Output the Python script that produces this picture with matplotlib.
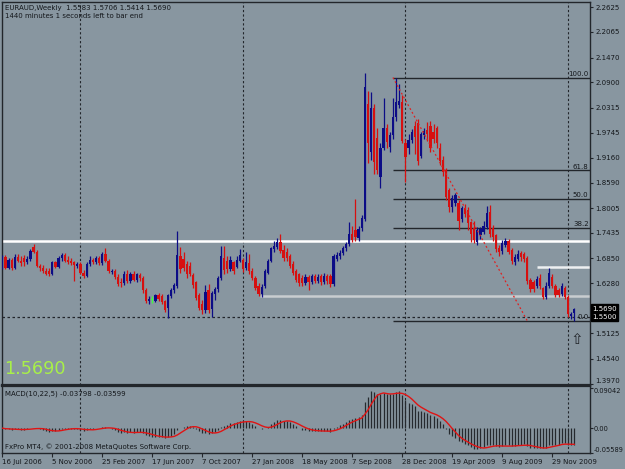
import numpy as np
import pandas as pd
import matplotlib
matplotlib.use('Agg')
import matplotlib.pyplot as plt
from matplotlib.transforms import blended_transform_factory

# EURAUD weekly candles, 16 Jul 2006 .. 17 Jan 2010
opens = [
    1.665, 1.688, 1.664, 1.682, 1.663, 1.689, 1.680, 1.685, 1.676, 1.684,
    1.712, 1.700, 1.668, 1.664, 1.657, 1.656, 1.648, 1.676, 1.666, 1.686,
    1.692, 1.682, 1.680, 1.676, 1.668, 1.672, 1.652, 1.644, 1.672, 1.682,
    1.676, 1.686, 1.674, 1.696, 1.680, 1.654, 1.656, 1.642, 1.630, 1.628,
    1.650, 1.632, 1.650, 1.636, 1.646, 1.640, 1.612, 1.588, 1.590, 1.588,
    1.600, 1.598, 1.586, 1.570, 1.598, 1.612, 1.622, 1.690, 1.684, 1.672,
    1.668, 1.646, 1.630, 1.600, 1.580, 1.566, 1.612, 1.568, 1.604, 1.614,
    1.640, 1.686, 1.680, 1.660, 1.676, 1.666, 1.680, 1.682, 1.662, 1.674,
    1.656, 1.640, 1.622, 1.604, 1.622, 1.652, 1.680, 1.706, 1.712, 1.722,
    1.704, 1.700, 1.690, 1.672, 1.656, 1.648, 1.640, 1.628, 1.642, 1.630,
    1.644, 1.634, 1.644, 1.630, 1.644, 1.644, 1.626, 1.684, 1.690, 1.698,
    1.708, 1.718, 1.742, 1.750, 1.732, 1.754, 1.776, 2.040, 1.930, 2.030,
    1.962, 1.872, 1.940, 1.984, 1.942, 1.968, 2.010, 2.038, 2.044, 1.950,
    1.938, 1.958, 1.990, 1.996, 1.920, 1.968, 1.980, 1.990, 1.975, 1.985,
    1.940, 1.912, 1.888, 1.842, 1.803, 1.812, 1.812, 1.775, 1.800, 1.796,
    1.768, 1.756, 1.722, 1.738, 1.746, 1.758, 1.792, 1.756, 1.738, 1.708,
    1.702, 1.716, 1.724, 1.704, 1.676, 1.684, 1.698, 1.694, 1.686, 1.636,
    1.630, 1.622, 1.640, 1.616, 1.596, 1.622, 1.642, 1.622, 1.612, 1.604,
    1.618, 1.596, 1.553, 1.5583]
highs = [
    1.692, 1.692, 1.686, 1.686, 1.694, 1.695, 1.690, 1.692, 1.690, 1.706,
    1.717, 1.705, 1.672, 1.670, 1.664, 1.662, 1.680, 1.680, 1.690, 1.698,
    1.697, 1.690, 1.686, 1.680, 1.676, 1.676, 1.658, 1.676, 1.690, 1.686,
    1.690, 1.690, 1.700, 1.708, 1.684, 1.660, 1.660, 1.648, 1.640, 1.656,
    1.658, 1.654, 1.656, 1.652, 1.652, 1.644, 1.616, 1.598, 1.598, 1.604,
    1.606, 1.604, 1.590, 1.604, 1.616, 1.628, 1.747, 1.712, 1.700, 1.680,
    1.676, 1.652, 1.634, 1.606, 1.590, 1.624, 1.626, 1.610, 1.620, 1.644,
    1.714, 1.714, 1.690, 1.690, 1.680, 1.690, 1.706, 1.686, 1.700, 1.696,
    1.662, 1.644, 1.628, 1.626, 1.660, 1.684, 1.712, 1.724, 1.732, 1.742,
    1.716, 1.710, 1.696, 1.678, 1.660, 1.652, 1.646, 1.648, 1.646, 1.650,
    1.648, 1.650, 1.650, 1.652, 1.650, 1.648, 1.694, 1.700, 1.704, 1.714,
    1.722, 1.768, 1.760, 1.822, 1.760, 1.784, 2.111, 2.070, 2.068, 2.040,
    1.985, 1.950, 2.054, 1.995, 1.975, 2.054, 2.101, 2.085, 2.060, 1.960,
    1.970, 1.982, 2.000, 2.005, 1.975, 1.985, 1.998, 2.000, 1.995, 1.990,
    1.950, 1.920, 1.892, 1.848, 1.830, 1.836, 1.820, 1.806, 1.810, 1.804,
    1.772, 1.770, 1.758, 1.758, 1.770, 1.806, 1.808, 1.762, 1.742, 1.716,
    1.728, 1.732, 1.730, 1.708, 1.694, 1.704, 1.702, 1.700, 1.690, 1.640,
    1.636, 1.644, 1.650, 1.620, 1.630, 1.662, 1.648, 1.626, 1.618, 1.628,
    1.622, 1.600, 1.562, 1.5706]
lows = [
    1.660, 1.660, 1.660, 1.658, 1.660, 1.676, 1.668, 1.668, 1.672, 1.680,
    1.698, 1.666, 1.656, 1.652, 1.646, 1.644, 1.646, 1.662, 1.662, 1.680,
    1.676, 1.672, 1.670, 1.632, 1.664, 1.648, 1.640, 1.642, 1.668, 1.672,
    1.672, 1.670, 1.670, 1.676, 1.652, 1.648, 1.638, 1.622, 1.620, 1.624,
    1.628, 1.628, 1.632, 1.630, 1.632, 1.606, 1.582, 1.580, 1.582, 1.584,
    1.588, 1.580, 1.562, 1.548, 1.594, 1.606, 1.618, 1.652, 1.656, 1.640,
    1.644, 1.618, 1.590, 1.566, 1.558, 1.560, 1.560, 1.550, 1.590, 1.608,
    1.636, 1.650, 1.652, 1.656, 1.650, 1.662, 1.676, 1.654, 1.658, 1.650,
    1.636, 1.612, 1.598, 1.596, 1.618, 1.648, 1.676, 1.700, 1.706, 1.698,
    1.680, 1.680, 1.662, 1.646, 1.630, 1.622, 1.622, 1.624, 1.612, 1.626,
    1.628, 1.628, 1.624, 1.626, 1.626, 1.620, 1.622, 1.678, 1.684, 1.692,
    1.702, 1.714, 1.722, 1.726, 1.726, 1.748, 1.770, 1.905, 1.912, 1.880,
    1.880, 1.848, 1.935, 1.940, 1.930, 1.960, 2.000, 2.030, 1.950, 1.860,
    1.926, 1.950, 1.925, 1.900, 1.915, 1.960, 1.955, 1.930, 1.950, 1.940,
    1.900, 1.875, 1.820, 1.792, 1.792, 1.806, 1.750, 1.768, 1.780, 1.750,
    1.722, 1.720, 1.716, 1.730, 1.740, 1.752, 1.734, 1.726, 1.700, 1.690,
    1.696, 1.712, 1.694, 1.672, 1.670, 1.680, 1.680, 1.676, 1.626, 1.608,
    1.608, 1.616, 1.614, 1.592, 1.592, 1.618, 1.616, 1.596, 1.596, 1.598,
    1.592, 1.550, 1.545, 1.5414]
closes = [
    1.688, 1.664, 1.682, 1.663, 1.689, 1.680, 1.674, 1.676, 1.684, 1.702,
    1.700, 1.668, 1.662, 1.657, 1.650, 1.648, 1.676, 1.666, 1.686, 1.692,
    1.680, 1.677, 1.674, 1.670, 1.671, 1.652, 1.644, 1.672, 1.682, 1.676,
    1.686, 1.674, 1.694, 1.680, 1.656, 1.656, 1.642, 1.626, 1.628, 1.650,
    1.632, 1.650, 1.636, 1.648, 1.640, 1.612, 1.588, 1.592, 1.590, 1.600,
    1.592, 1.584, 1.566, 1.600, 1.612, 1.624, 1.692, 1.660, 1.664, 1.648,
    1.650, 1.624, 1.594, 1.570, 1.566, 1.608, 1.566, 1.606, 1.614, 1.640,
    1.690, 1.658, 1.660, 1.682, 1.656, 1.682, 1.692, 1.660, 1.676, 1.656,
    1.640, 1.618, 1.602, 1.620, 1.656, 1.678, 1.708, 1.714, 1.722, 1.702,
    1.686, 1.686, 1.668, 1.652, 1.636, 1.628, 1.628, 1.642, 1.630, 1.644,
    1.634, 1.642, 1.630, 1.644, 1.632, 1.626, 1.690, 1.692, 1.698, 1.710,
    1.718, 1.742, 1.728, 1.734, 1.752, 1.778, 2.079, 1.950, 2.030, 1.906,
    1.888, 1.940, 1.985, 1.952, 1.968, 2.010, 2.044, 2.046, 1.956, 1.918,
    1.958, 1.975, 1.964, 1.910, 1.970, 1.978, 1.970, 1.940, 1.960, 1.950,
    1.910, 1.884, 1.826, 1.804, 1.824, 1.830, 1.772, 1.800, 1.786, 1.766,
    1.742, 1.728, 1.750, 1.752, 1.760, 1.790, 1.740, 1.734, 1.706, 1.700,
    1.720, 1.726, 1.700, 1.678, 1.688, 1.696, 1.688, 1.684, 1.632, 1.614,
    1.614, 1.638, 1.622, 1.596, 1.622, 1.652, 1.622, 1.600, 1.600, 1.622,
    1.596, 1.556, 1.558, 1.5690]

date_idx = [0, 16, 32, 48, 64, 80, 96, 112, 128, 144, 160, 176]
date_labels = ['16 Jul 2006', '5 Nov 2006', '25 Feb 2007', '17 Jun 2007',
               '7 Oct 2007', '27 Jan 2008', '18 May 2008', '7 Sep 2008',
               '28 Dec 2008', '19 Apr 2009', '9 Aug 2009', '29 Nov 2009']
year_start_idx = [25, 77, 129, 181]

price_ticks = [2.2625, 2.2065, 2.1470, 2.0900, 2.0315, 1.9745, 1.9160, 1.8590,
               1.8005, 1.7435, 1.6850, 1.6280, 1.5125, 1.4540, 1.3970]
macd_ticks = [0.09042, 0.0, -0.05589]
macd_tick_labels = ['0.09042', '0.00', '-0.05589']

# chart objects drawn by the trader
fib_idx = [125, 168]
fib_price = [2.1010, 1.5414]
fib_levels = [0.0, 38.2, 50.0, 61.8, 100.0]
white_level = 1.7254
gray_level, gray_from = 1.5983, 82.5
short_level, short_from = 1.6644, 171
dotted_level = 1.5500
arrow_idx, arrow_price = 183.8, 1.499

W, H = 625, 469
bg = '#8896a0'
ink = '#14171b'
dark = '#22262b'
bull = '#0c0c86'
bear = '#d61010'

plt.rcParams['font.family'] = 'DejaVu Sans'
fig = plt.figure(figsize=(W / 100, H / 100), dpi=100)
fig.patch.set_facecolor(bg)


def pane(x0, y0, x1, y1):
    a = fig.add_axes([x0 / W, 1 - y1 / H, (x1 - x0) / W, (y1 - y0) / H])
    a.set_facecolor(bg)
    for s in a.spines.values():
        s.set_color(dark)
        s.set_linewidth(1)
    return a


def ftext(x, y, s, **kw):
    fig.text(x / W, 1 - y / H, s, **kw)


ax = pane(2, 2, 590, 384.5)
ax2 = pane(2, 385.5, 590, 453)
ax.spines['bottom'].set_linewidth(1.6)
ax2.spines['top'].set_linewidth(1.6)

o, h, l, c = (np.array(v) for v in (opens, highs, lows, closes))
idx = np.arange(len(c))
xmin, xmax = -0.1, 188.06

# candles
cols = np.where(c > o, bull, np.where(c < o, bear, '#3cff3c'))
ax.vlines(idx, l, h, colors=cols, lw=0.9, zorder=3)
ax.bar(idx, np.maximum(np.abs(c - o), 0.0015), bottom=np.minimum(o, c),
       width=0.7, color=cols, linewidth=0, zorder=4)

# year separators
for a in (ax, ax2):
    for x in year_start_idx:
        a.axvline(x, color=dark, lw=0.8, ls=(0, (2, 2)), zorder=1)

# horizontal lines
ax.axhline(white_level, color='white', lw=1.8, zorder=2)
ax.hlines(gray_level, gray_from, xmax, color='#c9cdd0', lw=1.8, zorder=2)
ax.hlines(short_level, short_from, xmax, color='#eef0f2', lw=1.8, zorder=2)
ax.axhline(dotted_level, color=dark, lw=0.9, ls=(0, (2, 2)), zorder=2)

# fibonacci retracement
rng = fib_price[0] - fib_price[1]
for lev in fib_levels:
    p = fib_price[1] + rng * lev / 100
    ax.hlines(p, fib_idx[0], xmax, color=dark, lw=1, zorder=2)
    ax.text(187.6, p + 0.002, f'{lev:.1f}', ha='right', va='bottom',
            fontsize=5, color=ink, zorder=5)
ax.plot(fib_idx, fib_price, color='#e02020', lw=0.9, ls=(0, (1.5, 2)), zorder=5)

ax.text(arrow_idx, arrow_price, '\u21e7', ha='center', va='center',
        fontsize=11, color=dark, zorder=5)

ax.set_xlim(xmin, xmax)
ax.set_ylim(1.3950, 2.2747)
ax.set_xticks([])
ax.yaxis.tick_right()
ax.set_yticks(price_ticks)
ax.set_yticklabels([f'{p:.4f}' for p in price_ticks])
ax.get_yticklabels()[-1].set_va('bottom')
ax.tick_params(axis='y', length=2.5, width=0.8, color=dark, labelsize=5,
               labelcolor=ink, pad=1.2)

trans = blended_transform_factory(ax.transAxes, ax.transData)
for p in (dotted_level, c[-1]):
    ax.text(1.004, p, f'{p:.4f}', transform=trans, fontsize=5, color='white',
            va='center', ha='left', clip_on=False, zorder=6,
            bbox=dict(boxstyle='square,pad=0.2', fc='black', ec='black'))

# MACD(10,22,5)
def ema(values, period):
    k = 2.0 / (period + 1)
    out = np.empty(len(values))
    out[0] = values[0]
    for t in range(1, len(values)):
        out[t] = values[t] * k + out[t - 1] * (1 - k)
    return out


macd = ema(c, 10) - ema(c, 22)
signal = pd.Series(macd).rolling(5, min_periods=1).mean().values
ax2.vlines(idx, 0, macd, colors='#25292e', lw=0.9, zorder=3)
ax2.plot(idx, signal, color='#e01414', lw=1.0, zorder=4)

ax2.set_xlim(xmin, xmax)
ax2.set_ylim(-0.05589, 0.0960)
ax2.yaxis.tick_right()
ax2.set_yticks(macd_ticks)
ax2.set_yticklabels(macd_tick_labels)
ax2.get_yticklabels()[0].set_va('top')
ax2.get_yticklabels()[2].set_va('bottom')
ax2.tick_params(axis='y', length=2, width=0.8, color=dark, labelsize=4.8,
                labelcolor=ink, pad=0.8)
ax2.set_xticks(date_idx)
ax2.set_xticklabels(date_labels, ha='left')
ax2.tick_params(axis='x', length=3, width=0.8, color=dark, labelsize=5,
                labelcolor=ink, pad=1.5)

# texts
ftext(5, 8, f'EURAUD,Weekly  {o[-1]:.4f} {h[-1]:.4f} {l[-1]:.4f} {c[-1]:.4f}',
      fontsize=5, color=ink, va='center')
ftext(5, 16.5, '1440 minutes 1 seconds left to bar end', fontsize=5,
      color=ink, va='center')
ftext(4, 369, f'{c[-1]:.4f}', fontsize=12.7, color='#a8f048', va='center')
ftext(5, 394, 'MACD(10,22,5) -0.03798 -0.03599', fontsize=5, color=ink,
      va='center')
ftext(5, 447, 'FxPro MT4, \u00a9 2001-2008 MetaQuotes Software Corp.',
      fontsize=5, color=ink, va='center')

fig.savefig('out.png', dpi=100, facecolor=bg)
